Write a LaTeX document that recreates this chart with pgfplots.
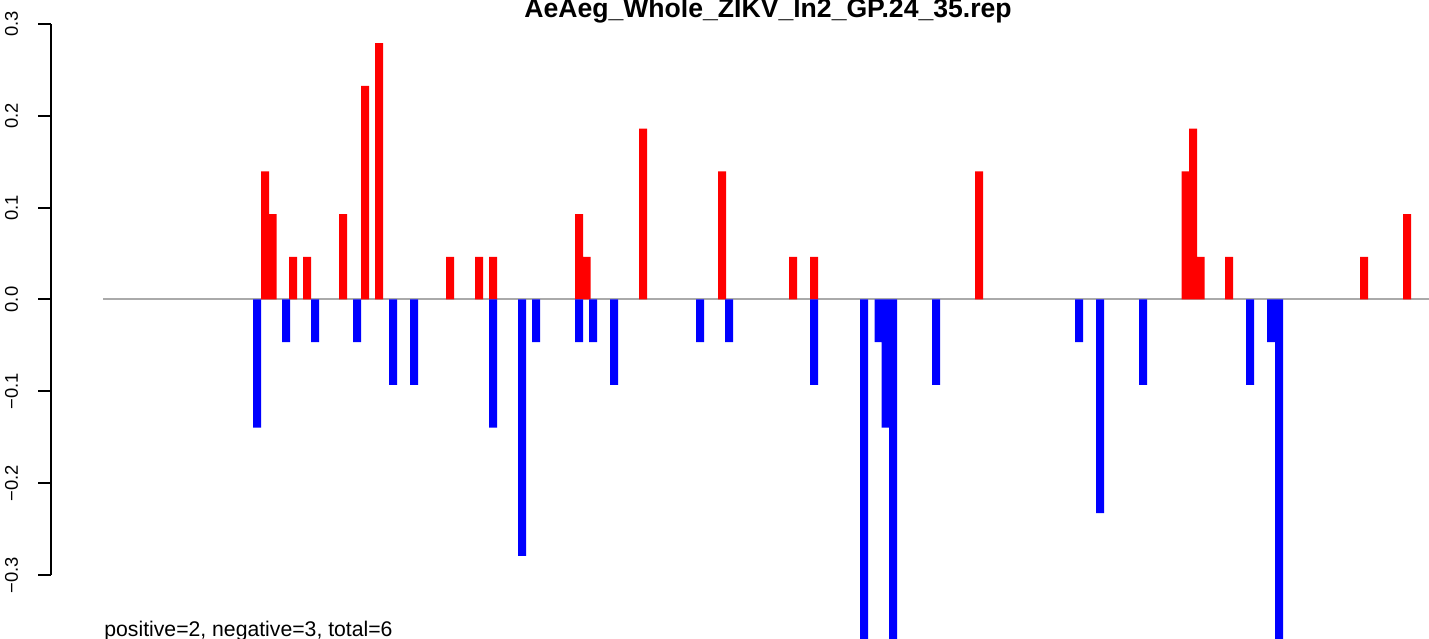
\documentclass[border=0pt]{standalone}
\usepackage{pgfplots}
\pgfplotsset{compat=1.18}
\usepackage{fontspec}
\setmainfont{Liberation Sans}
\definecolor{zeroline}{RGB}{170,170,170}
\begin{document}
\begin{tikzpicture}
\begin{axis}[
  scale only axis,
  width=689pt, height=275.5pt,
  xmin=51, xmax=1429, ymin=-0.3, ymax=0.3,
  axis x line=none,
  axis y line=left,
  y axis line style={-, line width=1pt},
  ytick={-0.3,-0.2,-0.1,0,0.1,0.2,0.3},
  yticklabels={−0.3,−0.2,−0.1,0.0,0.1,0.2,0.3},
  tick align=outside,
  major tick length=6.5pt,
  ytick style={line width=1pt, black},
  yticklabel style={xshift=-10pt, rotate=90, anchor=base, inner sep=0pt, font=\fontsize{9.2}{10}\selectfont},
  clip=false,
]
\addplot[zeroline, line width=1pt, forget plot] coordinates {(103,0) (1429,0)};
\addplot[ybar, bar width=8, bar shift=0pt, fill=red, draw=none] coordinates {
(265,0.1395) (272.5,0.0930) (293,0.0465) (307,0.0465) (343,0.0930) (365,0.2326) (379,0.2791)
(450,0.0465) (479,0.0465) (493,0.0465) (579,0.0930) (586.5,0.0465) (643,0.1860) (722,0.1395)
(793,0.0465) (814,0.0465) (979,0.1395) (1185.5,0.1395) (1193,0.1860) (1200.5,0.0465)
(1229,0.0465) (1364,0.0465) (1407,0.0930)
};
\addplot[ybar, bar width=8, bar shift=0pt, fill=blue, draw=none] coordinates {
(257,-0.1395) (286,-0.0465) (315,-0.0465) (357,-0.0465) (393,-0.0930) (414,-0.0930)
(493,-0.1395) (522,-0.2791) (536,-0.0465) (579,-0.0465) (593,-0.0465) (614,-0.0930)
(700,-0.0465) (729,-0.0465) (814,-0.0930) (864,-0.3721) (878.5,-0.0465) (885.5,-0.1395)
(893,-0.3721) (936,-0.0930) (1079,-0.0465) (1100,-0.2326) (1143,-0.0930) (1250,-0.0930)
(1271,-0.0465) (1279,-0.3721)
};
\node[anchor=base, inner sep=0pt, font=\bfseries\fontsize{13.3}{16}\selectfont] at (axis cs:768,0.30654) {AeAeg\_Whole\_ZIKV\_ln2\_GP.24\_35.rep};
\node[anchor=base west, inner sep=0pt, font=\fontsize{10.6}{12}\selectfont] at (axis cs:104,-0.3665) {positive=2, negative=3, total=6};
\coordinate (bl) at (axis cs:0,-0.36874);
\coordinate (tr) at (axis cs:1429,0.32614);
\end{axis}
\pgfresetboundingbox
\path[use as bounding box] (bl) rectangle (tr);
\end{tikzpicture}
\end{document}
